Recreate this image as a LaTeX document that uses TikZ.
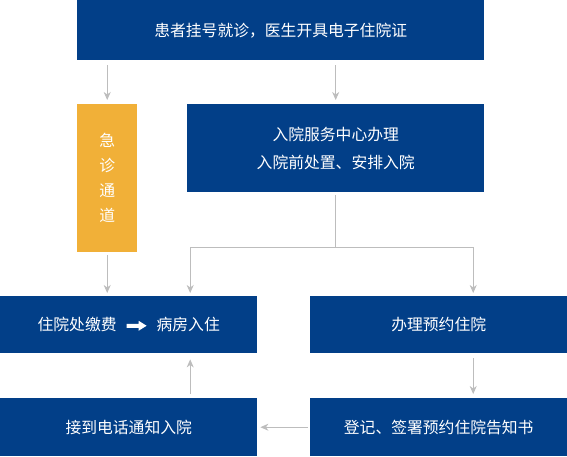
\documentclass[tikz,border=0pt]{standalone}
\usepackage{fontspec}
\setmainfont{Noto Sans CJK SC}
\usetikzlibrary{arrows.meta,positioning,calc}
\definecolor{deepblue}{HTML}{023F88}
\definecolor{amber}{HTML}{F1B038}
\definecolor{linegray}{HTML}{BDBDBD}

\begin{document}
\begin{tikzpicture}[x=1pt,y=-1pt,
 box/.style={fill=deepblue,draw=none,inner sep=0pt,anchor=north west,text=white,align=center,font=\fontsize{15.8}{28}\selectfont},
 urgent/.style={box,fill=amber,font=\fontsize{15.8}{25}\selectfont},
 flow/.style={draw=linegray,line width=0.9pt,-{Stealth[length=8pt,width=7pt,inset=2.5pt]}}]
\useasboundingbox (0,0) rectangle (567,456);
\node[box,minimum width=407pt,minimum height=60pt] (visit) at (77,0) {患者挂号就诊，医生开具电子住院证};
\node[urgent,minimum width=60pt,minimum height=148pt] (emerg) at (77,104) {急\\诊\\通\\道};
\node[box,minimum width=297pt,minimum height=88pt] (center) at (187,104) {入院服务中心办理\\入院前处置、安排入院};
\node[box,minimum width=257pt,minimum height=57pt] (pay) at (0,296) {住院处缴费\hspace{10pt}\tikz[baseline=0pt]\fill[white] (0pt,3pt) -- (12pt,3pt) -- (12pt,0pt) -- (20pt,5pt) -- (12pt,10pt) -- (12pt,7pt) -- (0pt,7pt) -- cycle;\hspace{10pt}病房入住};
\node[box,minimum width=257pt,minimum height=57pt] (book) at (310,296) {办理预约住院};
\node[box,minimum width=257pt,minimum height=58pt] (call) at (0,398) {接到电话通知入院};
\node[box,minimum width=257pt,minimum height=58pt] (sign) at (310,398) {登记、签署预约住院告知书};
\coordinate (split) at ($(center.south)+(0,55)$);
% arrows
\draw[flow,shorten <=5pt,shorten >=4pt] (visit.south -| emerg) -- (emerg.north);
\draw[flow,shorten <=5pt,shorten >=4pt] (visit.south -| center) -- (center.north);
\draw[draw=linegray,line width=0.9pt,shorten <=3pt] (center.south) -- (split);
\draw[flow,shorten >=3pt] (split) -| ([xshift=61.5pt]pay.north);
\draw[flow,shorten >=3pt] (split) -| ([xshift=34.5pt]book.north);
\draw[flow,shorten <=3pt,shorten >=3pt] (emerg.south) -- (emerg.south |- pay.north);
\draw[flow,shorten <=5pt,shorten >=4pt] ([xshift=34.5pt]book.south) -- ([xshift=34.5pt]sign.north);
\draw[flow,shorten <=2pt,shorten >=3pt] (sign.west) -- (call.east);
\draw[flow,shorten <=4pt,shorten >=6pt] ([xshift=61.5pt]call.north) -- ([xshift=61.5pt]pay.south);
\end{tikzpicture}
\end{document}
